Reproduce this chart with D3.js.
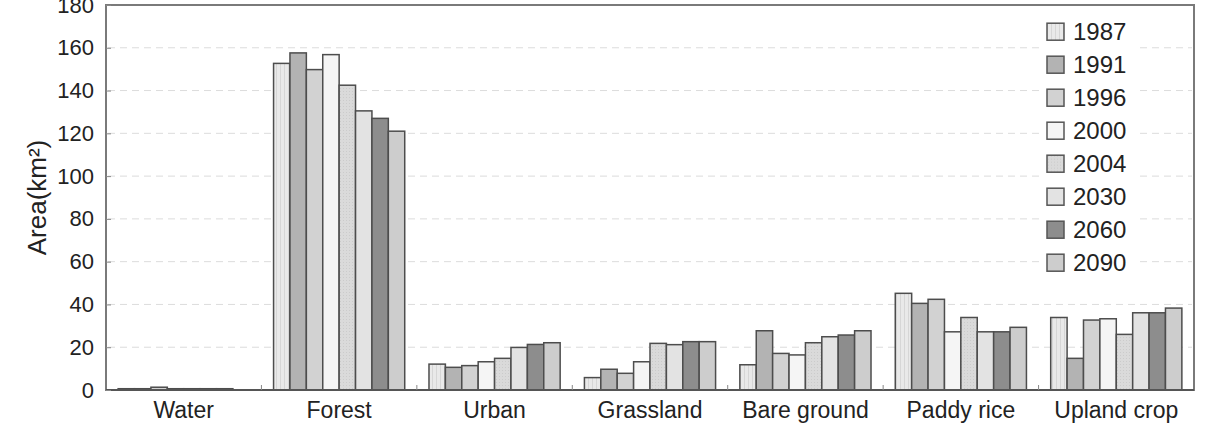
<!DOCTYPE html>
<html>
<head>
<meta charset="utf-8">
<script src="https://cdn.jsdelivr.net/npm/d3@7"></script>
<style>
  html, body { margin: 0; padding: 0; background: #fff; }
  svg { display: block; font-family: "Liberation Sans", Arial, sans-serif; }
</style>
</head>
<body>
<svg id="chart" width="1205" height="434"></svg>
<script>
const categories = ["Water", "Forest", "Urban", "Grassland", "Bare ground", "Paddy rice", "Upland crop"];
const years = ["1987", "1991", "1996", "2000", "2004", "2030", "2060", "2090"];
const v1987 = [0.6, 152.7, 12.1, 5.8, 11.8, 45.2, 33.9];
const v1991 = [0.6, 157.6, 10.6, 9.7, 27.7, 40.5, 14.8];
const v1996 = [1.3, 149.8, 11.4, 7.8, 17.1, 42.4, 32.7];
const v2000 = [0.6, 156.8, 13.2, 13.2, 16.4, 27.2, 33.3];
const v2004 = [0.6, 142.5, 14.8, 21.8, 22.1, 33.9, 26.0];
const v2030 = [0.6, 130.5, 19.9, 21.2, 24.9, 27.2, 36.1];
const v2060 = [0.6, 127.0, 21.3, 22.6, 25.7, 27.2, 36.1];
const v2090 = [0.0, 121.0, 22.1, 22.6, 27.7, 29.3, 38.3];
const yTicks = [0, 20, 40, 60, 80, 100, 120, 140, 160, 180];
const gridTicks = [20, 40, 60, 80, 100, 120, 140, 160];

const seriesValues = [v1987, v1991, v1996, v2000, v2004, v2030, v2060, v2090];
const fills = ["url(#p1987)", "#b3b3b3", "#d2d2d2", "#f5f5f5", "url(#p2004)", "#e3e3e3", "#8d8d8d", "#cdcdcd"];

const svg = d3.select("#chart");
const margin = {left: 106, top: 5, right: 11, bottom: 44};
const W = 1205, H = 434;

// patterns
const defs = svg.append("defs");
const p1 = defs.append("pattern").attr("id", "p1987").attr("patternUnits", "userSpaceOnUse")
  .attr("width", 4).attr("height", 4);
p1.append("rect").attr("width", 4).attr("height", 4).attr("fill", "#e9e9e9");
p1.append("rect").attr("x", 0).attr("width", 1).attr("height", 4).attr("fill", "#d6d6d6");
const p2 = defs.append("pattern").attr("id", "p2004").attr("patternUnits", "userSpaceOnUse")
  .attr("width", 3).attr("height", 3);
p2.append("rect").attr("width", 3).attr("height", 3).attr("fill", "#dadada");
p2.append("rect").attr("x", 1).attr("y", 1).attr("width", 1).attr("height", 1).attr("fill", "#cbcbcb");

const x = d3.scaleBand().domain(categories).range([margin.left, W - margin.right]).paddingInner(0).paddingOuter(0);
const xi = d3.scaleBand().domain(years).range([0, x.bandwidth()]).paddingInner(0).paddingOuter(0.74);
const y = d3.scaleLinear().domain([0, 180]).range([H - margin.bottom, margin.top]);

// grid
svg.append("g").selectAll("line").data(gridTicks).join("line")
  .attr("x1", margin.left + 2).attr("x2", W - margin.right - 2)
  .attr("y1", d => y(d)).attr("y2", d => y(d))
  .attr("stroke", "#dcdcdc").attr("stroke-width", 1).attr("stroke-dasharray", "7,5");

// legend background
const lg = svg.append("g");
lg.append("rect").attr("x", 1040).attr("y", 14).attr("width", 98).attr("height", 268).attr("fill", "#fff");

// bars
const groups = svg.append("g").selectAll("g").data(years).join("g")
  .attr("fill", (d, i) => fills[i]);
groups.each(function(yr, si) {
  d3.select(this).selectAll("rect").data(categories).join("rect")
    .attr("x", c => x(c) + xi(yr))
    .attr("width", xi.bandwidth())
    .attr("y", (c, ci) => y(seriesValues[si][ci]))
    .attr("height", (c, ci) => y(0) - y(seriesValues[si][ci]))
    .attr("stroke", "#4d4d4d").attr("stroke-width", 1.5);
});

// frame
svg.append("rect").attr("x", margin.left).attr("y", margin.top)
  .attr("width", W - margin.left - margin.right).attr("height", y(0) - margin.top)
  .attr("fill", "none").attr("stroke", "#7a7a7a").attr("stroke-width", 2);
svg.append("line").attr("x1", margin.left).attr("x2", W - margin.right)
  .attr("y1", y(0)).attr("y2", y(0)).attr("stroke", "#555").attr("stroke-width", 2);

// y axis
const yAxis = d3.axisLeft(y).tickValues(yTicks).tickSizeInner(-5).tickSizeOuter(0).tickPadding(12);
const ya = svg.append("g").attr("transform", `translate(${margin.left},0)`).call(yAxis);
ya.select(".domain").remove();
ya.selectAll(".tick line").attr("stroke", "#888");
ya.selectAll(".tick text").attr("font-size", 22).attr("fill", "#222")
  .attr("font-family", "'Liberation Sans', Arial, sans-serif");

// x axis
const xAxis = d3.axisBottom(x).tickSize(0).tickPadding(12);
const xa = svg.append("g").attr("transform", `translate(0,${y(0)})`).call(xAxis);
xa.select(".domain").remove();
xa.selectAll(".tick text").attr("font-size", 23).attr("fill", "#222")
  .attr("font-family", "'Liberation Sans', Arial, sans-serif");
// boundary ticks (upward)
svg.append("g").selectAll("line").data(categories.slice(1)).join("line")
  .attr("x1", c => x(c)).attr("x2", c => x(c))
  .attr("y1", y(0)).attr("y2", y(0) - 5)
  .attr("stroke", "#888").attr("stroke-width", 1);

// y title
svg.append("text").attr("transform", `translate(46,${(y(0) + margin.top) / 2}) rotate(-90)`)
  .attr("text-anchor", "middle").attr("font-size", 26).attr("fill", "#222")
  .text("Area(km²)");

// legend
const li = lg.selectAll("g.item").data(years).join("g").attr("class", "item")
  .attr("transform", (d, i) => `translate(1047,${31.7 + i * 33})`);
li.append("rect").attr("x", 0).attr("y", -8.5).attr("width", 17).attr("height", 17)
  .attr("fill", (d, i) => fills[i]).attr("stroke", "#555").attr("stroke-width", 1.5);
li.append("text").attr("x", 26).attr("y", 0).attr("dy", "0.36em")
  .attr("font-size", 24).attr("fill", "#222").text(d => d);
</script>
</body>
</html>
